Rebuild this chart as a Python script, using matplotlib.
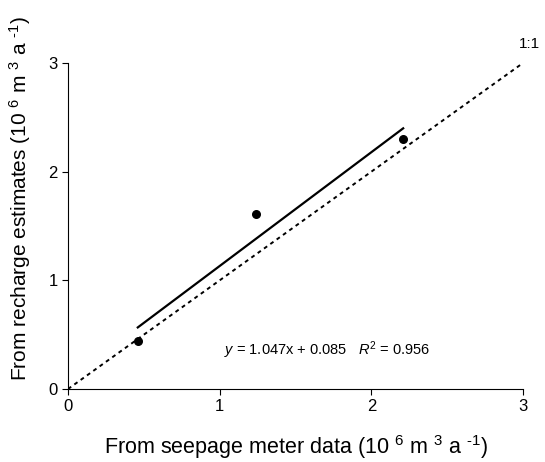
import matplotlib
matplotlib.use("Agg")
import matplotlib.pyplot as plt
import numpy as np

plt.rcParams["font.family"] = ["Liberation Sans", "DejaVu Sans"]
plt.rcParams["mathtext.fontset"] = "custom"
plt.rcParams["mathtext.rm"] = "Liberation Sans"
plt.rcParams["mathtext.it"] = "Liberation Sans:italic"

# observed points (seepage meter vs recharge estimates, 10^6 m^3/a)
seepage = [0.46, 1.24, 2.21]
recharge = [0.44, 1.61, 2.30]

# regression y = 1.047x + 0.085
slope = 1.047
intercept = 0.085
one_to_one = [0, 3]


def main() -> None:
    fig = plt.figure(figsize=(5.45, 4.62), dpi=100)
    ax = fig.add_axes([0.1248, 0.158, 0.8348, 0.7056])

    ax.plot(one_to_one, one_to_one, color="black", linestyle=(0, (2, 2)), linewidth=1.4)
    fit_x = np.array([min(seepage), max(seepage)])
    ax.plot(fit_x, slope * fit_x + intercept, color="black", linewidth=1.6)
    ax.scatter(seepage, recharge, s=30, color="black", zorder=3)

    ax.text(3.11, 3.11, "1:1", fontsize=11, ha="right", va="bottom")
    ax.text(1.03, 0.36,
            r"$y$ = 1.047x + 0.085   $R^2$ = 0.956",
            fontsize=10.5, ha="left", va="center")

    ax.set_xlim(0, 3)
    ax.set_ylim(0, 3)
    ax.set_xticks([0, 1, 2, 3])
    ax.set_yticks([0, 1, 2, 3])
    for s in ["top", "right"]:
        ax.spines[s].set_visible(False)
    ax.tick_params(direction="out", length=4, labelsize=12)

    ax.set_xlabel(r"From seepage meter data (10 $^{6}$ m $^{3}$ a $^{\text{-1}}$)",
                  fontsize=15.5)
    ax.set_ylabel(r"From recharge estimates (10 $^{6}$ m $^{3}$ a $^{\text{-1}}$)",
                  fontsize=15)
    ax.xaxis.set_label_coords(0.502, -0.136)
    ax.yaxis.set_label_coords(-0.077, 0.586)

    fig.savefig("out.png", dpi=100)


if __name__ == "__main__":
    main()
